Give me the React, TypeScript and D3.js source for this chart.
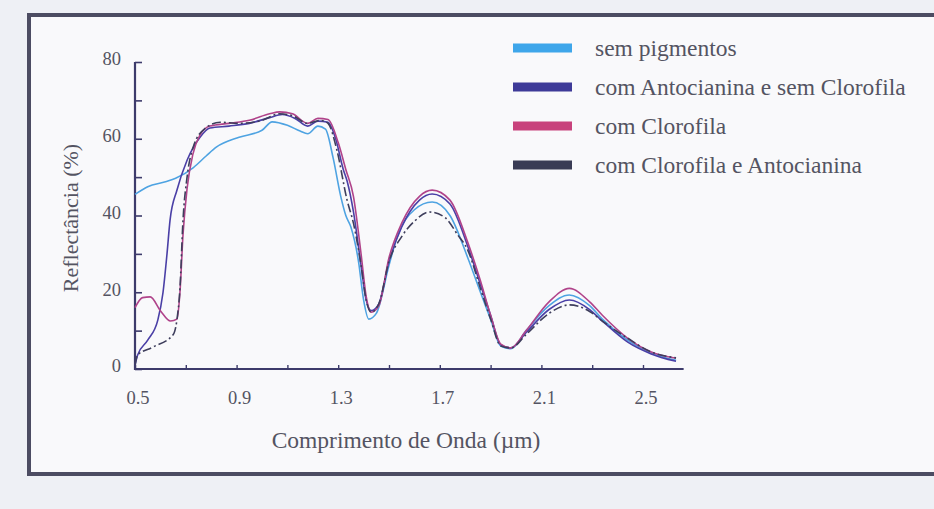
import * as d3 from 'd3';
import React, { useEffect, useRef } from 'react';

// wavelength (µm) / reflectance (%) pairs
const semPigmentos: [number, number][] = [
  [0.5, 45.5], [0.55, 47.5], [0.62, 48.8], [0.66, 49.7], [0.73, 52.5], [0.78, 55.5], [0.82, 57.8],
  [0.91, 60.4], [1.0, 62.2], [1.04, 64.4], [1.1, 63.5], [1.15, 62], [1.18, 61.3], [1.22, 63.3],
  [1.25, 62.5], [1.28, 55], [1.31, 45], [1.33, 40], [1.35, 37], [1.38, 28], [1.4, 18], [1.42, 13],
  [1.45, 14.5], [1.5, 27], [1.53, 34], [1.6, 41.5], [1.67, 43.5], [1.74, 40], [1.81, 29], [1.86, 20],
  [1.9, 13], [1.94, 6], [1.98, 5.3], [2.04, 10], [2.13, 16.5], [2.21, 19.3], [2.29, 16.5], [2.34, 13],
  [2.44, 7.5], [2.53, 4.2], [2.63, 2.3],
];

const antocianinaSemClorofila: [number, number][] = [
  [0.5, 1], [0.51, 3.6], [0.55, 7.5], [0.59, 12.8], [0.61, 19.8], [0.626, 30], [0.638, 38.8],
  [0.665, 46.6], [0.705, 54.4], [0.756, 60.4], [0.795, 62.8], [0.87, 63.3], [0.95, 64], [1.03, 65.5],
  [1.08, 66.3], [1.13, 65.3], [1.18, 63.3], [1.22, 64.6], [1.26, 64.3], [1.29, 60], [1.32, 52],
  [1.335, 49], [1.36, 41], [1.39, 27], [1.41, 18], [1.43, 15.2], [1.46, 17], [1.5, 28], [1.55, 37],
  [1.62, 44], [1.67, 45.6], [1.74, 43], [1.81, 32], [1.86, 22], [1.9, 14], [1.94, 6.3], [1.98, 5.5],
  [2.04, 9.5], [2.13, 15.5], [2.21, 18], [2.29, 15.5], [2.34, 12.5], [2.44, 7], [2.53, 4], [2.63, 2],
];

const comClorofila: [number, number][] = [
  [0.5, 16], [0.53, 18.6], [0.56, 18.8], [0.6, 15.2], [0.64, 12.5], [0.665, 13], [0.677, 20],
  [0.689, 35], [0.705, 47], [0.728, 56], [0.756, 61], [0.795, 63.3], [0.87, 64], [0.95, 64.8],
  [1.03, 66.5], [1.07, 67], [1.12, 66.5], [1.18, 64], [1.22, 65.3], [1.26, 65], [1.3, 59], [1.33, 52],
  [1.36, 45], [1.39, 30], [1.41, 19], [1.43, 14.8], [1.46, 16.5], [1.5, 29], [1.55, 38], [1.62, 45],
  [1.67, 46.6], [1.74, 44], [1.81, 33], [1.86, 23], [1.9, 14], [1.94, 6.5], [1.98, 5.5], [2.04, 10],
  [2.13, 17.5], [2.21, 21], [2.29, 17.5], [2.34, 14], [2.44, 8], [2.53, 4.5], [2.63, 2.8],
];

const clorofilaAntocianina: [number, number][] = [
  [0.5, 1], [0.51, 3.6], [0.57, 5.7], [0.65, 8.9], [0.665, 12.8], [0.677, 21], [0.689, 38.8],
  [0.705, 50], [0.73, 58], [0.776, 62.7], [0.835, 64.3], [0.91, 64], [1.0, 64.8], [1.07, 66.5],
  [1.12, 66], [1.18, 64], [1.23, 64.8], [1.26, 64], [1.295, 57], [1.335, 44], [1.36, 38], [1.39, 27],
  [1.41, 18], [1.43, 14.8], [1.46, 17], [1.5, 28], [1.55, 34.5], [1.6, 38.5], [1.66, 40.9],
  [1.72, 39.5], [1.77, 35], [1.81, 31], [1.86, 21], [1.9, 13], [1.94, 6], [1.98, 5.5], [2.04, 9],
  [2.13, 14.5], [2.21, 16.7], [2.29, 15], [2.34, 12.5], [2.44, 8], [2.53, 4.5], [2.63, 2.9],
];

const seriesNames = [
  'sem pigmentos',
  'com Antocianina e sem Clorofila',
  'com Clorofila',
  'com Clorofila e Antocianina',
];
const seriesData = [semPigmentos, antocianinaSemClorofila, comClorofila, clorofilaAntocianina];
const lineColors = ['#4ea3e2', '#4a3fa6', '#b0438a', '#3e3e5c'];
const swatchColors = ['#3ea6ea', '#3e3a98', '#c8427c', '#3a3c55'];
const dashes = [null, null, null, '9,3,2,3'];

const xTickLabels = [0.5, 0.9, 1.3, 1.7, 2.1, 2.5];
const xMinorTicks = [0.7, 1.1, 1.5, 1.9, 2.3];
const yTickLabels = [0, 20, 40, 60, 80];
const yMinorTicks = [10, 30, 50, 70];

const W = 934;
const H = 509;
const FONT = '"Liberation Serif", "Times New Roman", serif';
const TEXT = '#545462';
const AXIS = '#3d3b6b';

const App = () => {
  const svgRef = useRef<SVGSVGElement>(null);

  useEffect(() => {
    const svg = d3.select(svgRef.current);
    svg.selectAll('*').remove();

    // page + frame
    svg.append('rect').attr('width', W).attr('height', H).attr('fill', '#eef0f5');
    svg.append('rect').attr('x', 29).attr('y', 15).attr('width', W).attr('height', 459)
      .attr('fill', '#f9f9fb').attr('stroke', '#4c4c62').attr('stroke-width', 4);

    const x = d3.scaleLinear().domain([0.5, 2.5]).range([135, 643]);
    const y = d3.scaleLinear().domain([0, 80]).range([369, 62]);

    // y axis
    const ya = svg.append('g').attr('transform', 'translate(135,0)');
    ya.call(d3.axisRight(y).tickValues([...yTickLabels, ...yMinorTicks]).tickSize(7).tickFormat(() => ''));
    ya.select('.domain').remove();
    ya.selectAll('line').attr('stroke', AXIS).attr('stroke-width', 1.6);
    svg.append('line').attr('x1', 135).attr('x2', 135).attr('y1', y(80)).attr('y2', y(0) + 1)
      .attr('stroke', AXIS).attr('stroke-width', 2.2);

    svg.append('g').selectAll('text').data(yTickLabels).join('text')
      .attr('x', 121).attr('y', d => y(d) - 3).attr('dy', '0.35em')
      .attr('text-anchor', 'end').attr('font-family', FONT).attr('font-size', 18.5)
      .attr('fill', TEXT).text(d => d);

    // x axis
    const xa = svg.append('g').attr('transform', `translate(0,${y(0)})`);
    xa.call(d3.axisTop(x).tickValues([...xTickLabels, ...xMinorTicks]).tickSize(4).tickFormat(() => ''));
    xa.select('.domain').remove();
    xa.selectAll('line').attr('stroke', AXIS).attr('stroke-width', 1.4);
    svg.append('line').attr('x1', 134).attr('x2', x(2.66)).attr('y1', y(0)).attr('y2', y(0))
      .attr('stroke', AXIS).attr('stroke-width', 2.2);

    svg.append('g').selectAll('text').data(xTickLabels).join('text')
      .attr('x', d => x(d) + 3).attr('y', 398).attr('dy', '0.35em')
      .attr('text-anchor', 'middle').attr('font-family', FONT).attr('font-size', 18.5)
      .attr('fill', TEXT).text(d => d.toFixed(1));

    svg.append('text').attr('x', 406).attr('y', 440).attr('dy', '0.35em')
      .attr('text-anchor', 'middle').attr('font-family', FONT).attr('font-size', 23.5)
      .attr('fill', TEXT).text('Comprimento de Onda (µm)');

    svg.append('text').attr('transform', 'translate(70,218) rotate(-90)').attr('dy', '0.35em')
      .attr('text-anchor', 'middle').attr('font-family', FONT).attr('font-size', 22)
      .attr('fill', TEXT).text('Reflectância (%)');

    // curves
    const line = d3.line<[number, number]>()
      .x(d => x(d[0]))
      .y(d => y(d[1]))
      .curve(d3.curveMonotoneX);

    seriesData.forEach((data, i) => {
      svg.append('path').datum(data)
        .attr('fill', 'none')
        .attr('stroke', lineColors[i])
        .attr('stroke-width', 1.6)
        .attr('stroke-dasharray', dashes[i])
        .attr('d', line);
    });

    // legend
    const lg = svg.append('g');
    seriesNames.forEach((name, i) => {
      const cy = 48 + i * 39;
      lg.append('rect').attr('x', 513).attr('y', cy - 4.5).attr('width', 59).attr('height', 9)
        .attr('fill', swatchColors[i]);
      lg.append('text').attr('x', 595).attr('y', cy).attr('dy', '0.32em')
        .attr('font-family', FONT).attr('font-size', 23.5).attr('fill', TEXT).text(name);
    });
  }, []);

  return (
    <svg ref={svgRef} width={W} height={H} style={{ position: 'absolute', left: 0, top: 0 }} />
  );
};

export default App;
